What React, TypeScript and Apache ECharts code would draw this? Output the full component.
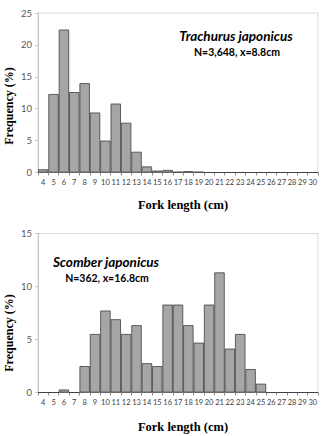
import React, { useEffect, useRef } from "react";
import * as echarts from "echarts";

// Fork length classes (cm)
const lengthClasses = [
  "4", "5", "6", "7", "8", "9", "10", "11", "12", "13", "14", "15", "16", "17",
  "18", "19", "20", "21", "22", "23", "24", "25", "26", "27", "28", "29", "30",
];

// Trachurus japonicus, frequency (%)
const trachurusFreq = [
  0.5, 12.3, 22.4, 12.6, 14.0, 9.4, 5.0, 10.8, 7.8, 3.25, 0.95, 0.3, 0.4, 0.1,
  0.2, 0.1, 0, 0, 0, 0, 0, 0, 0, 0, 0, 0, 0,
];

// Scomber japonicus, frequency (%)
const scomberFreq = [
  0, 0, 0.28, 0, 2.49, 5.52, 7.73, 6.91, 5.52, 6.35, 2.76, 2.49, 8.29, 8.29,
  6.35, 4.7, 8.29, 11.33, 4.14, 5.52, 2.21, 0.83, 0, 0, 0, 0, 0,
];

const trachurusTicks = { max: 25, interval: 5 };
const scomberTicks = { max: 15, interval: 5 };

const sansFont = "Lato, 'Open Sans', sans-serif";
const serifFont = "'Liberation Serif', 'Times New Roman', serif";

export default function App() {
  const ref = useRef<HTMLDivElement>(null);

  useEffect(() => {
    if (!ref.current) return;
    const chart = echarts.init(ref.current, undefined, { renderer: "svg" });

    const xAxis = (gridIndex: number) => ({
      type: "category" as const,
      gridIndex,
      data: lengthClasses,
      boundaryGap: true,
      axisLine: { show: true, lineStyle: { color: "#8c8c8c", width: 1 } },
      axisTick: {
        show: true,
        alignWithLabel: false,
        interval: 0,
        length: 3,
        lineStyle: { color: "#8c8c8c" },
      },
      axisLabel: {
        interval: 0,
        fontSize: 7.5,
        color: "#404040",
        fontFamily: sansFont,
        margin: 6,
      },
      splitLine: { show: false },
    });

    const yAxis = (gridIndex: number, t: { max: number; interval: number }) => ({
      type: "value" as const,
      gridIndex,
      min: 0,
      max: t.max,
      interval: t.interval,
      axisLine: { show: true, lineStyle: { color: "#c8c8c8" } },
      axisTick: { show: true, length: 3, lineStyle: { color: "#c8c8c8" } },
      axisLabel: {
        fontSize: 9.5,
        color: "#595959",
        fontFamily: sansFont,
        margin: 6,
      },
      splitLine: { show: false },
    });

    const barStyle = {
      color: "#a6a6a6",
      borderColor: "#3f3f3f",
      borderWidth: 0.8,
    };

    chart.setOption({
      animation: false,
      backgroundColor: "#ffffff",
      grid: [
        {
          left: 38, top: 13, width: 280, height: 159.5,
          show: true, borderColor: "#d9d9d9", borderWidth: 1,
          backgroundColor: "transparent",
        },
        {
          left: 38, top: 233.5, width: 280, height: 159,
          show: true, borderColor: "#d9d9d9", borderWidth: 1,
          backgroundColor: "transparent",
        },
      ],
      xAxis: [xAxis(0), xAxis(1)],
      yAxis: [yAxis(0, trachurusTicks), yAxis(1, scomberTicks)],
      series: [
        {
          type: "bar",
          xAxisIndex: 0,
          yAxisIndex: 0,
          data: trachurusFreq,
          barCategoryGap: "0%",
          itemStyle: barStyle,
        },
        {
          type: "bar",
          xAxisIndex: 1,
          yAxisIndex: 1,
          data: scomberFreq,
          barCategoryGap: "0%",
          itemStyle: barStyle,
        },
      ],
      graphic: [
        {
          type: "text", x: 236, y: 36,
          style: {
            text: "Trachurus japonicus", align: "center", verticalAlign: "middle",
            font: `italic bold 13.5px ${sansFont}`, fill: "#000",
          },
        },
        {
          type: "text", x: 237, y: 52,
          style: {
            text: "N=3,648, x=8.8cm", align: "center", verticalAlign: "middle",
            font: `bold 10.5px ${sansFont}`, fill: "#000",
          },
        },
        {
          type: "text", x: 106, y: 262,
          style: {
            text: "Scomber japonicus", align: "center", verticalAlign: "middle",
            font: `italic bold 13.5px ${sansFont}`, fill: "#000",
          },
        },
        {
          type: "text", x: 107, y: 278,
          style: {
            text: "N=362, x=16.8cm", align: "center", verticalAlign: "middle",
            font: `bold 10.5px ${sansFont}`, fill: "#000",
          },
        },
        {
          type: "text", x: 183, y: 205,
          style: {
            text: "Fork length (cm)", align: "center", verticalAlign: "middle",
            font: `bold 12.5px ${serifFont}`, fill: "#000",
          },
        },
        {
          type: "text", x: 183, y: 426.5,
          style: {
            text: "Fork length (cm)", align: "center", verticalAlign: "middle",
            font: `bold 12.5px ${serifFont}`, fill: "#000",
          },
        },
        {
          type: "text", x: 9, y: 106, rotation: Math.PI / 2,
          style: {
            text: "Frequency (%)", align: "center", verticalAlign: "middle",
            font: `bold 12px ${serifFont}`, fill: "#000",
          },
        },
        {
          type: "text", x: 9, y: 333, rotation: Math.PI / 2,
          style: {
            text: "Frequency (%)", align: "center", verticalAlign: "middle",
            font: `bold 12px ${serifFont}`, fill: "#000",
          },
        },
      ],
    });

    return () => chart.dispose();
  }, []);

  return (
    <div
      ref={ref}
      style={{ position: "fixed", left: 0, top: 0, width: 322, height: 436 }}
    />
  );
}
